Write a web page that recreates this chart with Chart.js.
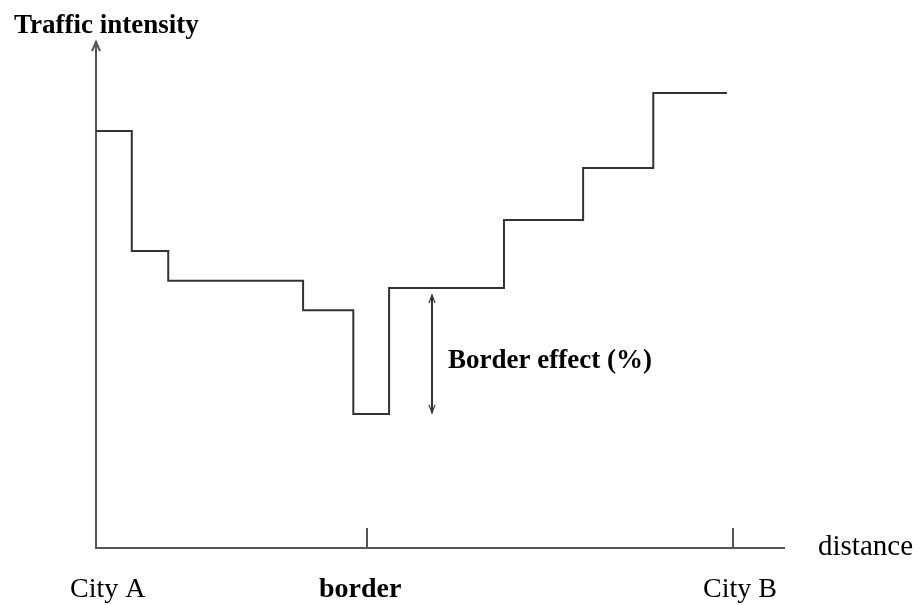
<!DOCTYPE html>
<html>
<head>
<meta charset="utf-8">
<script src="https://cdn.jsdelivr.net/npm/chart.js@4"></script>
<style>
  html, body { margin: 0; padding: 0; background: #fff; }
</style>
</head>
<body>
<canvas id="chart" width="920" height="605"></canvas>
<script>
// --- DATA ---
const stepX = [0, 5.2, 10.5, 30.1, 37.4, 42.6, 59.3, 70.8, 81.0, 91.7];
const stepY = [82.4, 58.7, 52.8, 47.0, 26.5, 51.4, 64.8, 75.1, 89.9, 89.9];
const labelValues = [1.7, 38.4, 93.6];
const tickLabels = ['City A', 'border', 'City B'];
const boldLabels = ['border'];
const markValues = [39.4, 92.6];
const effectX = 48.8;
const effectRange = [26.7, 50.0];

const yTitle = 'Traffic intensity';
const xTitle = 'distance';
const effectLabel = 'Border effect (%)';

const SERIF = '"Liberation Serif", "DejaVu Serif", serif';
const LINE = '#333';
const AXIS = '#555';

// --- EXTRA DRAWING: arrows, marks, free text ---
const annotations = {
    id: 'annotations',
    afterDraw(chart) {
        const { ctx, chartArea, scales: { x, y } } = chart;
        ctx.save();
        ctx.strokeStyle = AXIS;
        ctx.lineWidth = 2;

        // arrowhead on top of the y axis
        ctx.beginPath();
        ctx.moveTo(chartArea.left - 4, chartArea.top + 9);
        ctx.lineTo(chartArea.left, chartArea.top);
        ctx.lineTo(chartArea.left + 4, chartArea.top + 9);
        ctx.stroke();

        // small marks pointing up from the x axis
        markValues.forEach(v => {
            const px = Math.round(x.getPixelForValue(v));
            ctx.beginPath();
            ctx.moveTo(px, chartArea.bottom);
            ctx.lineTo(px, chartArea.bottom - 20);
            ctx.stroke();
        });

        // double-headed arrow for the border effect
        const ax = Math.round(x.getPixelForValue(effectX));
        const yTop = y.getPixelForValue(effectRange[1]);
        const yBot = y.getPixelForValue(effectRange[0]);
        ctx.strokeStyle = LINE;
        ctx.beginPath();
        ctx.moveTo(ax, yTop);
        ctx.lineTo(ax, yBot);
        ctx.stroke();
        ctx.lineWidth = 1.2;
        ctx.beginPath();
        ctx.moveTo(ax - 3, yTop + 8); ctx.lineTo(ax, yTop); ctx.lineTo(ax + 3, yTop + 8);
        ctx.moveTo(ax - 3, yBot - 8); ctx.lineTo(ax, yBot); ctx.lineTo(ax + 3, yBot - 8);
        ctx.stroke();

        // texts
        ctx.fillStyle = '#000';
        ctx.textBaseline = 'alphabetic';
        ctx.textAlign = 'left';
        ctx.font = 'bold 27px ' + SERIF;
        ctx.fillText(yTitle, 14, 33);
        ctx.fillText(effectLabel, ax + 16, 368);
        ctx.font = '29px ' + SERIF;
        ctx.fillText(xTitle, chartArea.right + 34, chartArea.bottom + 7);
        ctx.restore();
    }
};

// --- CHART ---
const ctx = document.getElementById('chart').getContext('2d');

new Chart(ctx, {
    type: 'line',
    data: {
        datasets: [{
            data: stepX.map((v, i) => ({ x: v, y: stepY[i] })),
            stepped: 'before',
            borderColor: LINE,
            borderWidth: 2,
            pointRadius: 0,
            fill: false
        }]
    },
    options: {
        responsive: false,
        animation: false,
        layout: { padding: { top: 42, right: 136, left: 0, bottom: 0 } },
        plugins: { legend: { display: false }, tooltip: { enabled: false } },
        scales: {
            x: {
                type: 'linear',
                min: 0,
                max: 100,
                afterBuildTicks: scale => {
                    scale.ticks = labelValues.map(v => ({ value: v }));
                },
                afterFit: scale => { scale.height = 57; },
                grid: { display: false },
                border: { display: true, color: AXIS, width: 2 },
                ticks: {
                    autoSkip: false,
                    maxRotation: 0,
                    padding: 17,
                    color: '#000',
                    callback: (value, index) => tickLabels[index],
                    font: c => ({
                        family: SERIF,
                        size: 28,
                        weight: boldLabels.includes(tickLabels[c.index]) ? 'bold' : 'normal'
                    })
                }
            },
            y: {
                type: 'linear',
                min: 0,
                max: 100,
                afterFit: scale => { scale.width = 96; },
                grid: { display: false },
                border: { display: true, color: AXIS, width: 2 },
                ticks: { display: false }
            }
        }
    },
    plugins: [annotations]
});
</script>
</body>
</html>
